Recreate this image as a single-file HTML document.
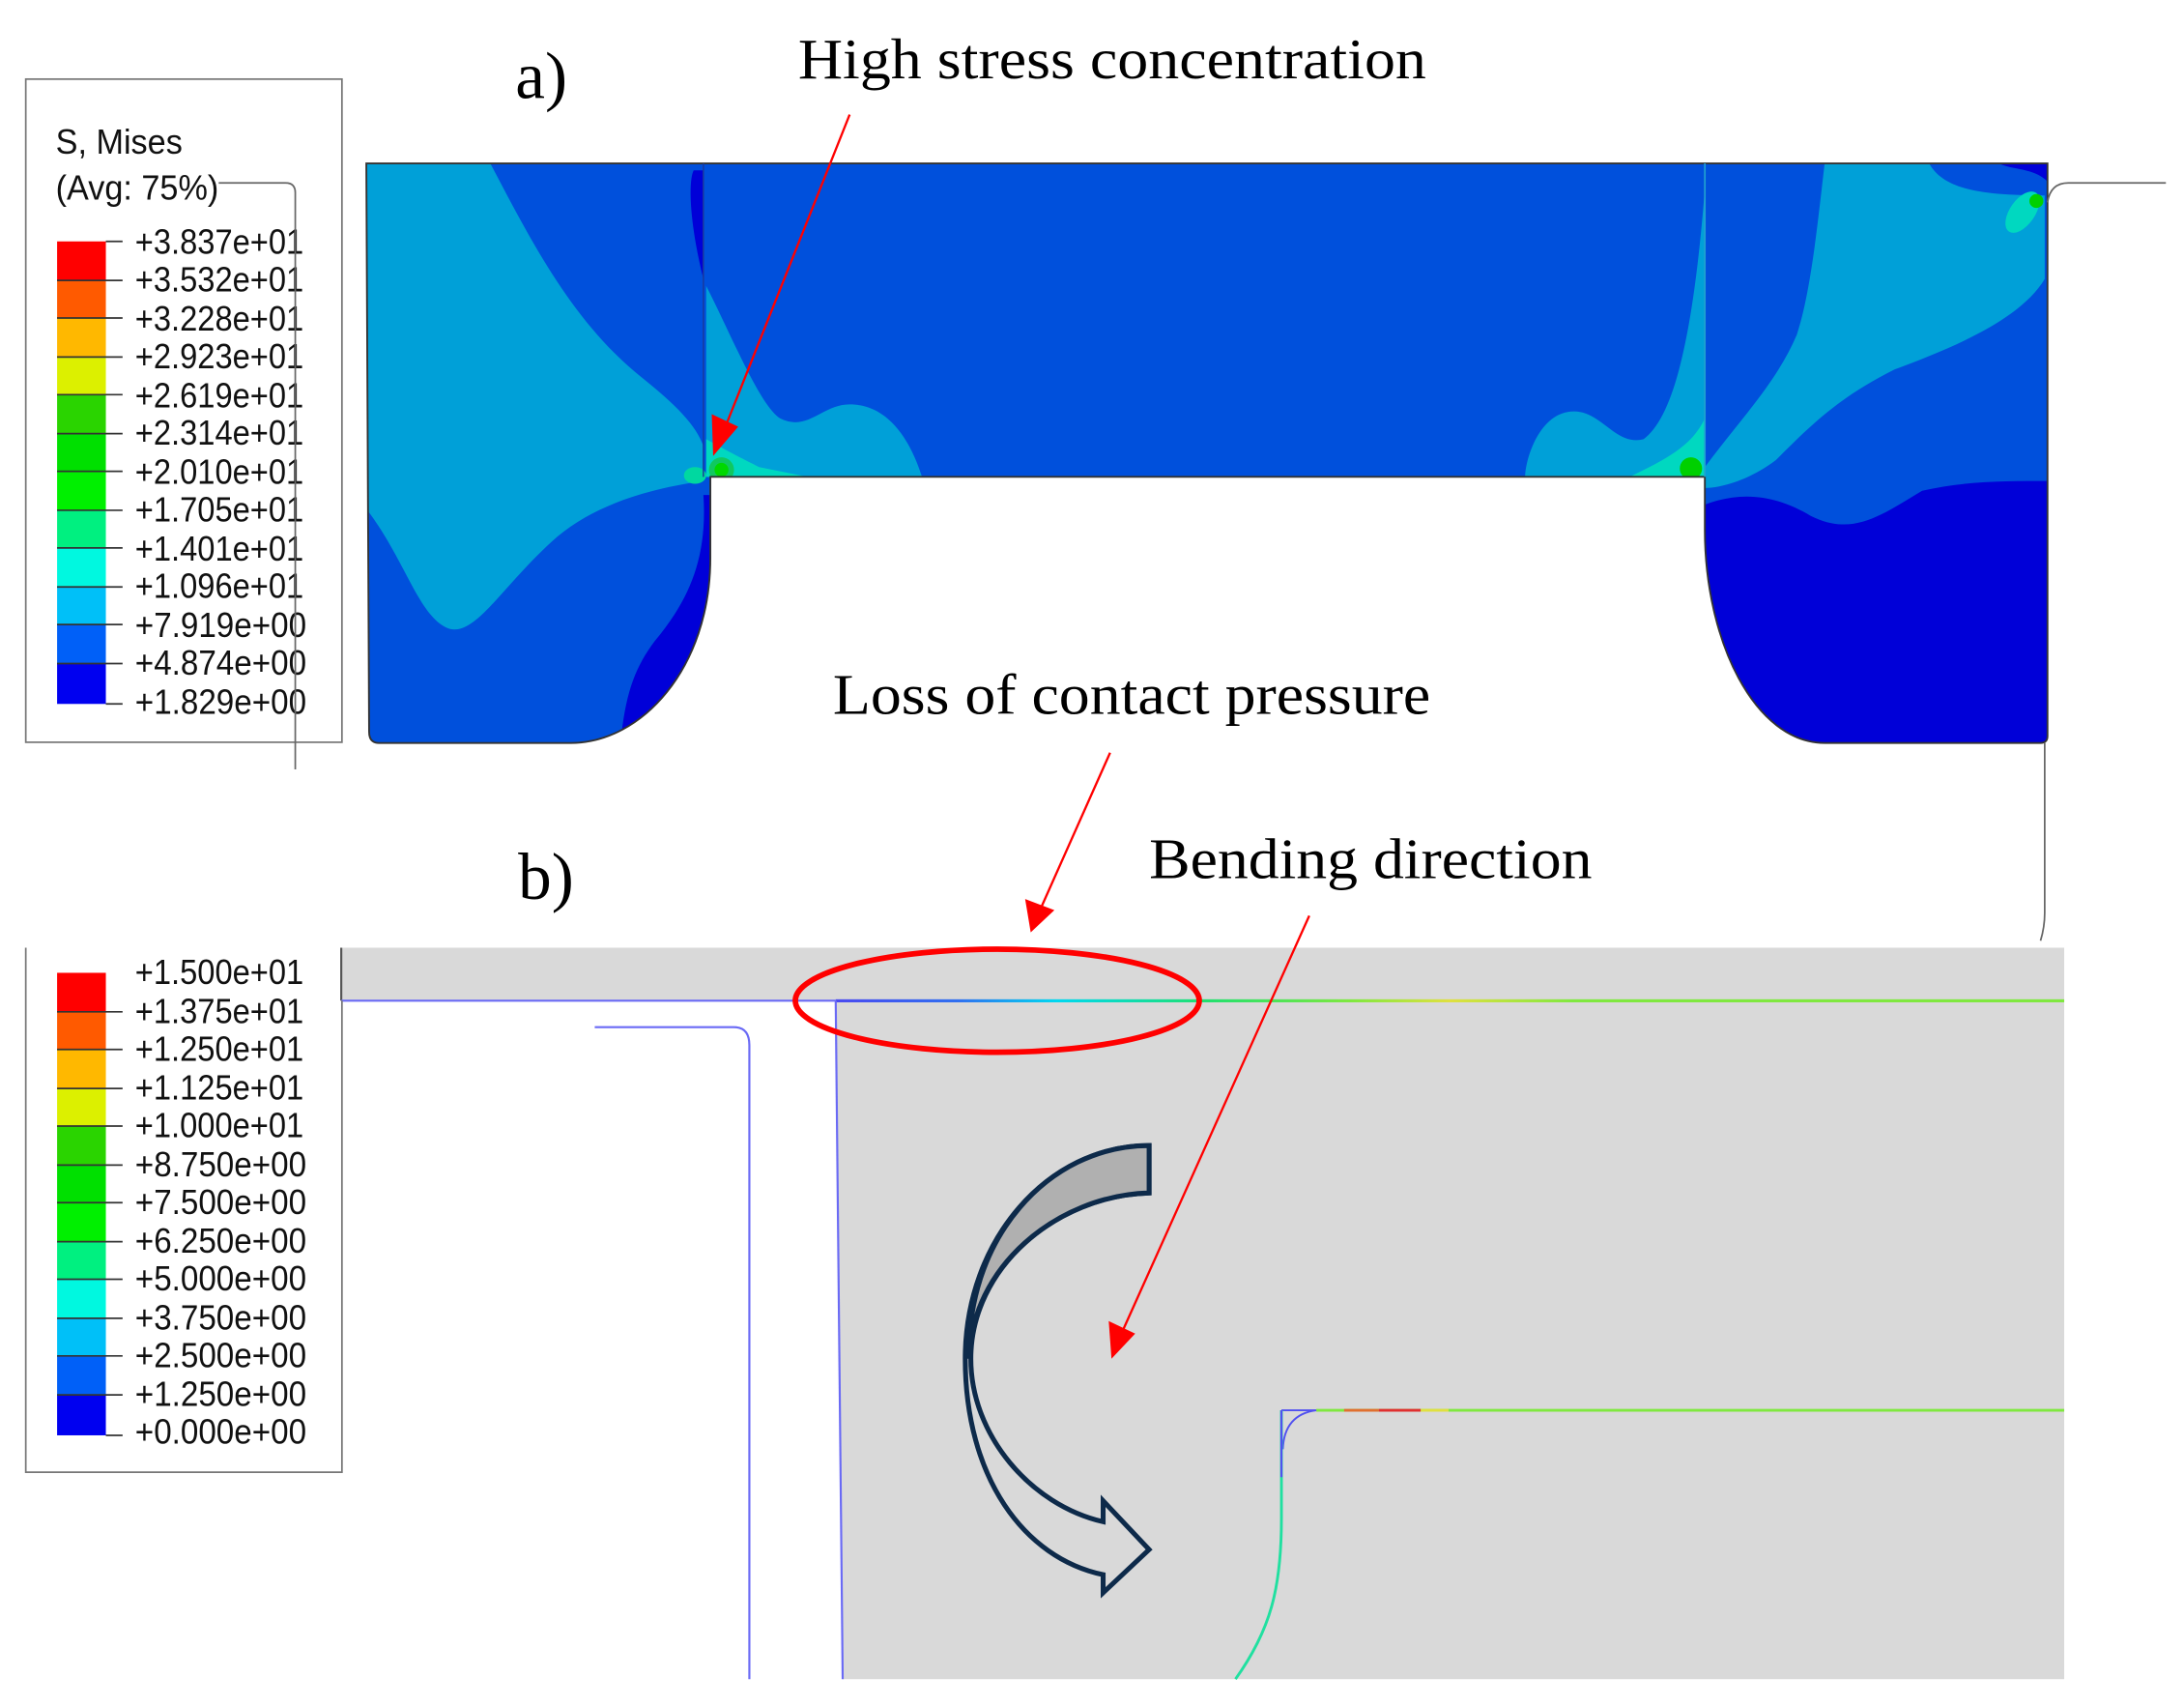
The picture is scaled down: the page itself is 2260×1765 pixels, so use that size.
<!DOCTYPE html>
<html><head><meta charset="utf-8"><style>
html,body{margin:0;padding:0;background:#fff}
svg{display:block}
.lg{font-family:"Liberation Sans",sans-serif;font-size:25px;fill:#111}
.sr{font-family:"Liberation Serif",serif;fill:#000}
</style></head><body>
<svg width="2260" height="1765" viewBox="0 0 1568 1224" xmlns="http://www.w3.org/2000/svg">
<defs>
<clipPath id="body"><path d="M263,117 H1470 V528 Q1470,533 1465,533 H1310 C1260,533 1224,460 1224,380 V342 H510 V400 C510,480 460,533 410,533 H272 Q265,533 265,525 Z"/></clipPath>
<linearGradient id="tl" gradientUnits="userSpaceOnUse" x1="600" x2="1482" y1="0" y2="0">
<stop offset="0" stop-color="#4a4af0"/><stop offset="0.1" stop-color="#3070f0"/><stop offset="0.18" stop-color="#00d8f0"/><stop offset="0.3" stop-color="#20e070"/><stop offset="0.42" stop-color="#80e840"/><stop offset="0.5" stop-color="#e0e040"/><stop offset="0.6" stop-color="#80e840"/><stop offset="1" stop-color="#80e840"/>
</linearGradient>
</defs>

<!-- Legend a -->
<rect x="18.5" y="56.5" width="227" height="476" fill="#fff" stroke="#777" stroke-width="1.2"/>
<text class="lg" x="40" y="110" textLength="91" lengthAdjust="spacingAndGlyphs">S, Mises</text>
<text class="lg" x="40" y="143" textLength="117" lengthAdjust="spacingAndGlyphs">(Avg: 75%)</text>
<g>
<rect x="41" y="173" width="35" height="28" fill="#ff0000"/>
<rect x="41" y="201" width="35" height="27" fill="#ff5a00"/>
<rect x="41" y="228" width="35" height="28" fill="#ffb800"/>
<rect x="41" y="256" width="35" height="27" fill="#dcf000"/>
<rect x="41" y="283" width="35" height="28" fill="#2ad400"/>
<rect x="41" y="311" width="35" height="27" fill="#00e000"/>
<rect x="41" y="338" width="35" height="28" fill="#00f000"/>
<rect x="41" y="366" width="35" height="27" fill="#00f080"/>
<rect x="41" y="393" width="35" height="28" fill="#00f8e0"/>
<rect x="41" y="421" width="35" height="27" fill="#00c0f8"/>
<rect x="41" y="448" width="35" height="28" fill="#0060f8"/>
<rect x="41" y="476" width="35" height="29" fill="#0000f0"/>
</g>
<g stroke="#333" stroke-width="1.2">
<line x1="41" y1="201" x2="88" y2="201"/><line x1="41" y1="228" x2="88" y2="228"/><line x1="41" y1="256" x2="88" y2="256"/><line x1="41" y1="283" x2="88" y2="283"/><line x1="41" y1="311" x2="88" y2="311"/><line x1="41" y1="338" x2="88" y2="338"/><line x1="41" y1="366" x2="88" y2="366"/><line x1="41" y1="393" x2="88" y2="393"/><line x1="41" y1="421" x2="88" y2="421"/><line x1="41" y1="448" x2="88" y2="448"/><line x1="41" y1="476" x2="88" y2="476"/>
<line x1="76" y1="173" x2="88" y2="173"/><line x1="76" y1="505" x2="88" y2="505"/>
</g>
<g class="lg">
<text x="97" y="182" textLength="121" lengthAdjust="spacingAndGlyphs">+3.837e+01</text>
<text x="97" y="209" textLength="121" lengthAdjust="spacingAndGlyphs">+3.532e+01</text>
<text x="97" y="237" textLength="121" lengthAdjust="spacingAndGlyphs">+3.228e+01</text>
<text x="97" y="264" textLength="121" lengthAdjust="spacingAndGlyphs">+2.923e+01</text>
<text x="97" y="292" textLength="121" lengthAdjust="spacingAndGlyphs">+2.619e+01</text>
<text x="97" y="319" textLength="121" lengthAdjust="spacingAndGlyphs">+2.314e+01</text>
<text x="97" y="347" textLength="121" lengthAdjust="spacingAndGlyphs">+2.010e+01</text>
<text x="97" y="374" textLength="121" lengthAdjust="spacingAndGlyphs">+1.705e+01</text>
<text x="97" y="402" textLength="121" lengthAdjust="spacingAndGlyphs">+1.401e+01</text>
<text x="97" y="429" textLength="121" lengthAdjust="spacingAndGlyphs">+1.096e+01</text>
<text x="97" y="457" textLength="123" lengthAdjust="spacingAndGlyphs">+7.919e+00</text>
<text x="97" y="484" textLength="123" lengthAdjust="spacingAndGlyphs">+4.874e+00</text>
<text x="97" y="512" textLength="123" lengthAdjust="spacingAndGlyphs">+1.829e+00</text>
</g>
<path d="M157,131 H205 Q212,131 212,138 V552" fill="none" stroke="#666" stroke-width="1.2"/>

<!-- Top contour body -->
<g clip-path="url(#body)">
<rect x="260" y="110" width="1215" height="430" fill="#0050dc"/>
<path d="M263,117 H352 C380,170 410,230 460,270 C485,290 500,305 505,320 L505,345 C470,350 430,360 400,385 C360,420 340,460 320,450 C300,440 290,400 263,365 Z" fill="#00a0d8"/>
<path d="M505,355 C508,400 495,430 470,460 C455,480 448,500 445,540 L520,540 L515,355 Z" fill="#0000d8"/>
<path d="M498,122 C494,130 495,160 505,200 L505,122 Z" fill="#0000d8"/>
<path d="M507,205 C525,240 545,290 560,300 C580,310 590,290 610,290 C640,290 655,320 662,342 L507,342 Z" fill="#00a0d8"/>
<path d="M507,315 C525,325 535,330 545,335 L580,342 L507,342 Z" fill="#00d8c0"/>
<circle cx="518" cy="337" r="9" fill="#10c860"/><circle cx="518" cy="337" r="5" fill="#00d800"/>
<ellipse cx="499" cy="341" rx="8" ry="6" fill="#00d8a0"/>
<path d="M1224,135 C1215,250 1200,300 1180,315 C1160,320 1150,295 1130,295 C1105,295 1095,330 1095,342 L1224,342 Z" fill="#00a0d8"/>
<path d="M1224,300 C1215,320 1195,330 1170,342 L1224,342 Z" fill="#00d8c0"/>
<circle cx="1214" cy="336" r="8" fill="#00d000"/>
<path d="M1310,117 H1385 C1395,135 1420,140 1468,140 L1468,200 C1450,230 1400,250 1360,265 C1320,285 1300,305 1275,330 C1255,345 1235,350 1224,350 L1224,335 C1250,300 1275,275 1290,240 C1300,210 1305,160 1310,117 Z" fill="#00a0d8"/>
<path d="M1224,362 C1250,352 1275,355 1300,370 C1330,385 1350,370 1380,352 C1410,345 1440,345 1470,345 L1470,540 L1224,540 Z" fill="#0000d8"/>
<ellipse cx="1452" cy="152" rx="9" ry="17" transform="rotate(35 1452 152)" fill="#00d8c0"/>
<circle cx="1462" cy="144" r="5" fill="#00d000"/>
<path d="M1435,117 C1445,122 1460,120 1470,130 V117 Z" fill="#0000d8"/>
</g>
<path d="M263,117 H1470 V528 Q1470,533 1465,533 H1310 C1260,533 1224,460 1224,380 V342 H510 V400 C510,480 460,533 410,533 H272 Q265,533 265,525 Z" fill="none" stroke="#333" stroke-width="1.3"/>
<line x1="505" y1="117" x2="505" y2="342" stroke="#1a3a9a" stroke-width="1"/>
<line x1="1224" y1="117" x2="1224" y2="342" stroke="#20a0d0" stroke-width="1.2"/>
<path d="M1470,145 Q1472,131 1485,131 H1555" fill="none" stroke="#666" stroke-width="1.2"/>
<path d="M1468,533 V655 Q1468,665 1465,675" fill="none" stroke="#666" stroke-width="1.2"/>

<!-- Labels -->
<text class="sr" x="370" y="70" font-size="48">a)</text>
<text class="sr" x="573" y="56" font-size="41" textLength="451" lengthAdjust="spacingAndGlyphs">High stress concentration</text>
<text class="sr" x="598" y="512" font-size="41" textLength="429" lengthAdjust="spacingAndGlyphs">Loss of contact pressure</text>
<text class="sr" x="372" y="645" font-size="48">b)</text>
<text class="sr" x="825" y="630" font-size="41" textLength="318" lengthAdjust="spacingAndGlyphs">Bending direction</text>

<!-- Part b -->
<rect x="245" y="680" width="1237" height="38" fill="#d9d9d9"/>
<path d="M600,718 H1482 V1205 H605 Z" fill="#d9d9d9"/>
<line x1="245" y1="680" x2="245" y2="718" stroke="#555" stroke-width="1.5"/>
<line x1="245" y1="718" x2="600" y2="718" stroke="#6a6af5" stroke-width="1.5"/>
<rect x="600" y="717" width="882" height="2.2" fill="url(#tl)"/>
<line x1="600" y1="718" x2="605" y2="1205" stroke="#6a6af5" stroke-width="1.5"/>
<path d="M427,737 H527 Q538,737 538,750 V1205" fill="none" stroke="#6a6af5" stroke-width="1.5"/>
<line x1="945" y1="1012" x2="1482" y2="1012" stroke="#80e840" stroke-width="2"/>
<line x1="965" y1="1012" x2="990" y2="1012" stroke="#e07030" stroke-width="2"/>
<line x1="990" y1="1012" x2="1020" y2="1012" stroke="#e03030" stroke-width="2"/>
<line x1="1020" y1="1012" x2="1040" y2="1012" stroke="#e0e040" stroke-width="2"/>
<path d="M920,1012 H945 Q922,1015 921,1040" fill="none" stroke="#5050f0" stroke-width="1.3"/>
<path d="M920,1012 V1090 C920,1140 912,1170 887,1205" fill="none" stroke="#20e0a0" stroke-width="2"/>
<line x1="920" y1="1012" x2="920" y2="1060" stroke="#5050f0" stroke-width="1.5"/>

<ellipse cx="716" cy="718" rx="145" ry="37" fill="none" stroke="#f00" stroke-width="4"/>

<!-- curved arrow -->
<path d="M825,822 V856 C758,858 697,910 697,975 C697,1030 740,1080 792,1092 V1077 L825,1112 L792,1143 V1130 C735,1118 693,1060 693,975 C693,890 752,822 825,822 Z" fill="none" stroke="#0d2a4a" stroke-width="3.5" stroke-linejoin="miter"/>
<path d="M825,822 V856 C758,858 697,910 696,975 C693,890 752,822 825,822 Z" fill="#b0b0b0" stroke="#0d2a4a" stroke-width="3.5"/>

<!-- Legend b -->
<path d="M18.5,680 V1056.5 H245.5 V718" fill="none" stroke="#777" stroke-width="1.2"/>
<rect x="41" y="698" width="35" height="28" fill="#ff0000"/>
<rect x="41" y="726" width="35" height="27" fill="#ff5a00"/>
<rect x="41" y="753" width="35" height="28" fill="#ffb800"/>
<rect x="41" y="781" width="35" height="27" fill="#dcf000"/>
<rect x="41" y="808" width="35" height="28" fill="#2ad400"/>
<rect x="41" y="836" width="35" height="27" fill="#00e000"/>
<rect x="41" y="863" width="35" height="28" fill="#00f000"/>
<rect x="41" y="891" width="35" height="27" fill="#00f080"/>
<rect x="41" y="918" width="35" height="28" fill="#00f8e0"/>
<rect x="41" y="946" width="35" height="27" fill="#00c0f8"/>
<rect x="41" y="973" width="35" height="28" fill="#0060f8"/>
<rect x="41" y="1001" width="35" height="29" fill="#0000f0"/>
<g stroke="#333" stroke-width="1.2">
<line x1="41" y1="726" x2="88" y2="726"/><line x1="41" y1="753" x2="88" y2="753"/><line x1="41" y1="781" x2="88" y2="781"/><line x1="41" y1="808" x2="88" y2="808"/><line x1="41" y1="836" x2="88" y2="836"/><line x1="41" y1="863" x2="88" y2="863"/><line x1="41" y1="891" x2="88" y2="891"/><line x1="41" y1="918" x2="88" y2="918"/><line x1="41" y1="946" x2="88" y2="946"/><line x1="41" y1="973" x2="88" y2="973"/><line x1="41" y1="1001" x2="88" y2="1001"/><line x1="76" y1="1030" x2="88" y2="1030"/>
</g>
<g class="lg">
<text x="97" y="706" textLength="121" lengthAdjust="spacingAndGlyphs">+1.500e+01</text>
<text x="97" y="734" textLength="121" lengthAdjust="spacingAndGlyphs">+1.375e+01</text>
<text x="97" y="761" textLength="121" lengthAdjust="spacingAndGlyphs">+1.250e+01</text>
<text x="97" y="789" textLength="121" lengthAdjust="spacingAndGlyphs">+1.125e+01</text>
<text x="97" y="816" textLength="121" lengthAdjust="spacingAndGlyphs">+1.000e+01</text>
<text x="97" y="844" textLength="123" lengthAdjust="spacingAndGlyphs">+8.750e+00</text>
<text x="97" y="871" textLength="123" lengthAdjust="spacingAndGlyphs">+7.500e+00</text>
<text x="97" y="899" textLength="123" lengthAdjust="spacingAndGlyphs">+6.250e+00</text>
<text x="97" y="926" textLength="123" lengthAdjust="spacingAndGlyphs">+5.000e+00</text>
<text x="97" y="954" textLength="123" lengthAdjust="spacingAndGlyphs">+3.750e+00</text>
<text x="97" y="981" textLength="123" lengthAdjust="spacingAndGlyphs">+2.500e+00</text>
<text x="97" y="1009" textLength="123" lengthAdjust="spacingAndGlyphs">+1.250e+00</text>
<text x="97" y="1036" textLength="123" lengthAdjust="spacingAndGlyphs">+0.000e+00</text>
</g>

<!-- Red arrows -->
<g stroke="#f00" stroke-width="1.6">
<line x1="610" y1="82" x2="522" y2="303"/>
<line x1="797" y1="540" x2="748" y2="650"/>
<line x1="940" y1="657" x2="806" y2="955"/>
</g>
<g fill="#f00">
<polygon points="512,327 511,297 530,306"/>
<polygon points="740,669 736,645 757,653"/>
<polygon points="798,975 796,948 815,957"/>
</g>
</svg>
</body></html>
